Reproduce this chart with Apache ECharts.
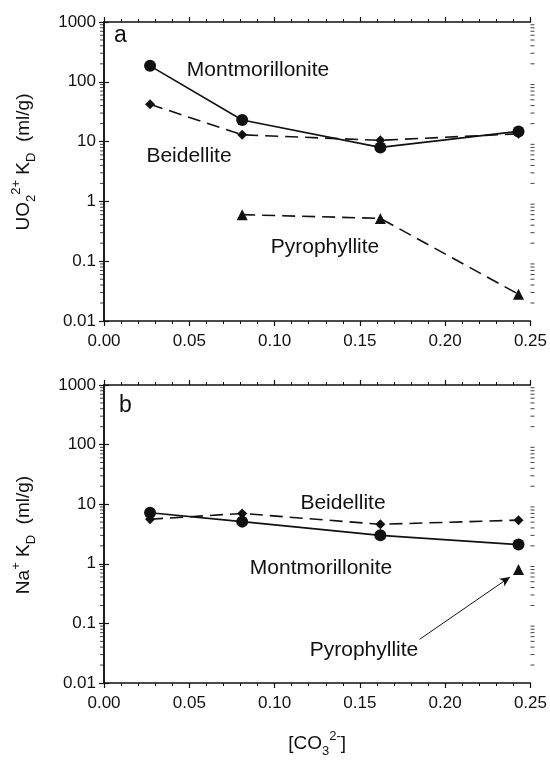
<!DOCTYPE html>
<html>
<head>
<meta charset="utf-8">
<script src="https://cdn.jsdelivr.net/npm/echarts@6/dist/echarts.min.js"></script>
<style>
  html,body{margin:0;padding:0;background:#fff;}
  #chart{width:550px;height:761px;}
</style>
</head>
<body>
<div id="chart"></div>
<script>
// carbonate concentration (x)
var xVals = [0.027, 0.081, 0.162, 0.243];
// panel a : UO2 2+ Kd (ml/g)
var uMont = [185, 23, 8, 14.8];
var uBeid = [42, 13, 10.5, 13.5];
var uPyro = [null, 0.6, 0.52, 0.028];
// panel b : Na+ Kd (ml/g)
var naMont = [7.2, 5.1, 3.0, 2.1];
var naBeid = [5.6, 7.0, 4.6, 5.4];
var naPyro = [null, null, null, 0.8];

var yDecades = [0.01, 0.1, 1, 10, 100, 1000];

var FONT = 'Liberation Sans, Arial, sans-serif';
var INK = '#111';

function pairs(ys) {
    var out = [];
    for (var i = 0; i < xVals.length; i++) {
        if (ys[i] != null) out.push([xVals[i], ys[i]]);
    }
    return out;
}

// log minor tick positions 2..9 of every decade
var minorY = [];
for (var d = 0; d < yDecades.length - 1; d++) {
    for (var m = 2; m <= 9; m++) minorY.push(+(m * yDecades[d]).toPrecision(3));
}

var rich = {
    b: {fontSize: 19, fontFamily: FONT, color: INK, fill: INK, lineHeight: 28, verticalAlign: 'middle'},
    sub: {fontSize: 13, fontFamily: FONT, color: INK, fill: INK, lineHeight: 28, verticalAlign: 'bottom'},
    sup: {fontSize: 13, fontFamily: FONT, color: INK, fill: INK, lineHeight: 28, verticalAlign: 'top'}
};

function xAxes(gi, name) {
    var base = {
        type: 'value', gridIndex: gi, min: 0, max: 0.25, interval: 0.05,
        axisLine: {lineStyle: {color: INK, width: 1.5}},
        axisTick: {inside: false, length: 5, lineStyle: {color: INK, width: 1.2}},
        minorTick: {show: true, splitNumber: 5, length: 3, lineStyle: {color: INK, width: 1}},
        splitLine: {show: false}
    };
    var bottom = Object.assign({}, base, {
        position: 'bottom',
        axisLabel: {show: true, margin: 12, fontSize: 17, fontFamily: FONT, color: INK,
            formatter: function (v) { return v.toFixed(2); }},
        name: name || '',
        nameLocation: 'middle',
        nameGap: 47,
        nameTextStyle: {fontSize: 19, fontFamily: FONT, color: INK, rich: rich}
    });
    var top = Object.assign({}, base, {position: 'top', axisLabel: {show: false}});
    return [bottom, top];
}

function yAxes(gi) {
    var base = {
        type: 'log', logBase: 10, gridIndex: gi, min: 0.01, max: 1000,
        axisLine: {show: true, lineStyle: {color: INK, width: 1.5}},
        axisTick: {show: true, inside: false, length: 5, lineStyle: {color: INK, width: 1.2}},
        splitLine: {show: false}
    };
    var left = Object.assign({}, base, {
        position: 'left',
        axisLabel: {margin: 8, fontSize: 17, fontFamily: FONT, color: INK,
            formatter: function (v) { return String(+(+v).toPrecision(3)); }}
    });
    var right = Object.assign({}, base, {position: 'right', axisLabel: {show: false}});
    return [left, right];
}

function minorTickSeries(xi, yi, xPos, off) {
    return {
        type: 'scatter', xAxisIndex: xi, yAxisIndex: yi, silent: true,
        symbol: 'rect', symbolSize: [4, 1], symbolOffset: [off, 0],
        itemStyle: {color: INK}, clip: false, z: 5,
        data: minorY.map(function (v) { return [xPos, v]; })
    };
}

function lineSeries(name, xi, yi, data, symbol, size, dashed) {
    return {
        name: name, type: 'line', xAxisIndex: xi, yAxisIndex: yi,
        data: pairs(data), symbol: symbol, symbolSize: size, showSymbol: true,
        lineStyle: {color: INK, width: 1.6, type: dashed ? [13, 7] : 'solid'},
        itemStyle: {color: INK}, z: 3, animation: false
    };
}

function label(x, y, text, size) {
    return {type: 'text', x: x, y: y,
        style: {text: text, fontSize: size || 21, fontFamily: FONT, fill: INK, align: 'center', verticalAlign: 'middle'}};
}

function yTitle(y, text) {
    return {type: 'text', x: 24, y: y, rotation: Math.PI / 2,
        style: {text: text, rich: rich, fontSize: 19, fontFamily: FONT, fill: INK, align: 'center', verticalAlign: 'middle'}};
}

var option = {
    backgroundColor: '#fff',
    animation: false,
    grid: [
        {left: 104, width: 428, top: 22, height: 299},
        {left: 104, width: 428, top: 385, height: 298}
    ],
    xAxis: xAxes(0).concat(xAxes(1, '{b|[CO}{sub|3}{sup|2-}{b|]}')),
    yAxis: yAxes(0).concat(yAxes(1)),
    series: [
        lineSeries('Montmorillonite', 0, 0, uMont, 'circle', 12, false),
        lineSeries('Beidellite', 0, 0, uBeid, 'diamond', 10, true),
        lineSeries('Pyrophyllite', 0, 0, uPyro, 'triangle', 11, true),
        lineSeries('Montmorillonite', 2, 2, naMont, 'circle', 12, false),
        lineSeries('Beidellite', 2, 2, naBeid, 'diamond', 10, true),
        (function () {
            var s = lineSeries('Pyrophyllite', 2, 2, naPyro, 'triangle', 11, true);
            s.markLine = {
                silent: true, symbol: ['none', 'arrow'], symbolSize: [7, 10],
                label: {show: false},
                lineStyle: {color: INK, width: 1, type: 'solid'},
                data: [[{coord: [0.185, 0.054]}, {coord: [0.238, 0.6]}]]
            };
            return s;
        })(),
        minorTickSeries(0, 0, 0, -2),
        minorTickSeries(0, 0, 0.25, 2),
        minorTickSeries(2, 2, 0, -2),
        minorTickSeries(2, 2, 0.25, 2)
    ],
    graphic: [
        {type: 'text', left: 114, top: 24, style: {text: 'a', fontSize: 23, fontFamily: FONT, fill: INK}},
        label(258, 70, 'Montmorillonite'),
        label(189, 156, 'Beidellite'),
        label(325, 247, 'Pyrophyllite'),
        {type: 'text', left: 119, top: 394, style: {text: 'b', fontSize: 23, fontFamily: FONT, fill: INK}},
        label(343, 503, 'Beidellite'),
        label(321, 568, 'Montmorillonite'),
        label(364, 650, 'Pyrophyllite'),
        yTitle(162, '{b|UO}{sub|2}{sup|2+}{b| K}{sub|D}{b|  (ml/g)}'),
        yTitle(535, '{b|Na}{sup|+}{b| K}{sub|D}{b|  (ml/g)}')
    ]
};

var myChart = echarts.init(document.getElementById('chart'), null, {renderer: 'canvas'});
myChart.setOption(option);
</script>
</body>
</html>
